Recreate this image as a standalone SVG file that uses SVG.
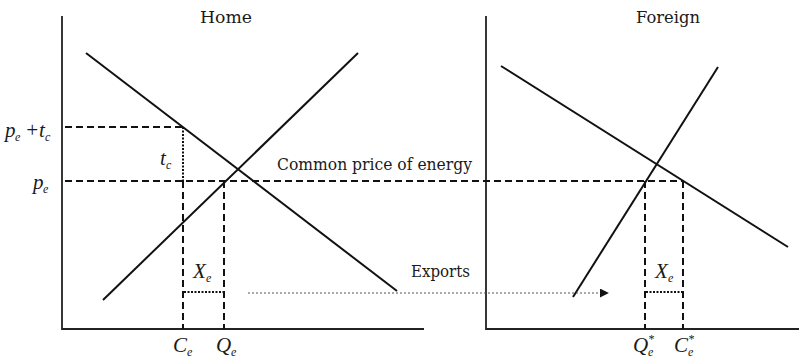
<svg xmlns="http://www.w3.org/2000/svg" width="799" height="364" viewBox="0 0 799 364">
<defs>
<style>
.ax{stroke:#222;stroke-width:1.8;fill:none}
.cv{stroke:#111;stroke-width:2;fill:none}
.dash{stroke:#111;stroke-width:2;stroke-dasharray:7 4;fill:none}
.dot{stroke:#111;stroke-width:2;stroke-dasharray:2 1.5;fill:none}
.fine{stroke:#555;stroke-width:1.2;stroke-dasharray:2 2;fill:none}
.t{font-family:"DejaVu Serif","Liberation Serif",serif;font-size:16px;fill:#1a1a1a}
.h{font-family:"DejaVu Serif","Liberation Serif",serif;font-size:17px;fill:#1a1a1a}
.m{font-family:"Liberation Serif",serif;font-style:italic;font-size:21px;fill:#1a1a1a}
.s{font-family:"Liberation Serif",serif;font-style:italic;font-size:12px;fill:#1a1a1a}
</style>
<marker id="arr" viewBox="0 0 10 10" refX="9" refY="5" markerWidth="9" markerHeight="9" markerUnits="userSpaceOnUse" orient="auto">
<path d="M0,0 L10,5 L0,10 z" fill="#111"/>
</marker>
</defs>
<rect width="799" height="364" fill="#fff"/>
<g id="home-axes">
<path class="ax" d="M62,16 V329 H424"/>
<text class="h" x="226" y="23" text-anchor="middle" textLength="52" lengthAdjust="spacingAndGlyphs">Home</text>
</g>
<g id="foreign-axes">
<path class="ax" d="M486,16 V329 H799"/>
<text class="h" x="668" y="23" text-anchor="middle" textLength="64" lengthAdjust="spacingAndGlyphs">Foreign</text>
</g>
<g id="home-demand"><line class="cv" x1="86" y1="53" x2="397" y2="291"/></g>
<g id="home-supply"><line class="cv" x1="103" y1="300" x2="358" y2="53"/></g>
<g id="foreign-demand"><line class="cv" x1="501" y1="66" x2="788" y2="247"/></g>
<g id="foreign-supply"><line class="cv" x1="573" y1="297" x2="718" y2="67"/></g>
<g id="connectors">
<line class="dash" x1="65" y1="127" x2="183" y2="127"/>
<line class="dot" x1="183" y1="127" x2="183" y2="181"/>
<line class="dash" x1="65" y1="181" x2="683" y2="181"/>
<line class="dash" x1="183" y1="181" x2="183" y2="329"/>
<line class="dash" x1="224" y1="181" x2="224" y2="329"/>
<line class="dash" x1="645" y1="181" x2="645" y2="329"/>
<line class="dash" x1="683" y1="181" x2="683" y2="329"/>
<line class="dot" x1="184" y1="292" x2="224" y2="292"/>
<line class="dot" x1="646" y1="292" x2="683" y2="292"/>
<line class="fine" x1="248" y1="293" x2="608" y2="293" marker-end="url(#arr)"/>
</g>
<g id="labels">
<text class="m" x="5" y="137">p</text><text class="s" x="15" y="141">e</text>
<text class="m" x="25" y="137">+</text><text class="m" x="39" y="137">t</text><text class="s" x="45" y="141">c</text>
<text class="m" x="33" y="189">p</text><text class="s" x="43" y="193">e</text>
<text class="m" x="160" y="165">t</text><text class="s" x="166" y="169">c</text>
<text class="t" x="277" y="170" textLength="195" lengthAdjust="spacingAndGlyphs">Common price of energy</text>
<text class="t" x="411" y="277" textLength="59" lengthAdjust="spacingAndGlyphs">Exports</text>
<text class="m" x="193" y="278">X</text><text class="s" x="206" y="282">e</text>
<text class="m" x="655" y="278">X</text><text class="s" x="668" y="282">e</text>
<text class="m" x="173" y="352">C</text><text class="s" x="187" y="356">e</text>
<text class="m" x="216" y="352">Q</text><text class="s" x="231" y="356">e</text>
<text class="m" x="633" y="352">Q</text><text class="s" x="648" y="356">e</text><text class="s" x="648" y="343">*</text>
<text class="m" x="674" y="352">C</text><text class="s" x="688" y="356">e</text><text class="s" x="688" y="343">*</text>
</g>
</svg>
